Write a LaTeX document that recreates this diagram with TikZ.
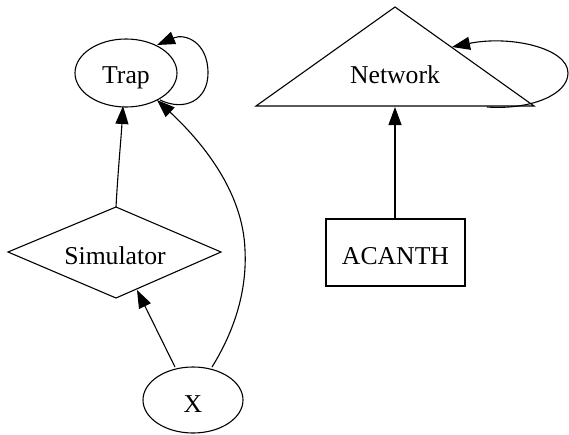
\documentclass[tikz,border=0pt]{standalone}
\usepackage{fontspec}
\setmainfont{Liberation Serif}
\usetikzlibrary{shapes.geometric,arrows.meta}
\begin{document}
\begin{tikzpicture}[x=1pt,y=-1pt,
  every path/.style={line width=1.1pt},
  shp/.style={draw,line width=1.1pt,inner sep=0pt},
  lbl/.style={anchor=base,inner sep=0pt,font=\fontsize{25.7}{30}\selectfont},
  edge/.style={draw,line width=1.1pt,-{Triangle[length=18pt,width=13pt]}}]
\useasboundingbox (0,0) rectangle (569,434);
% nodes
\node[shp,ellipse,minimum width=102pt,minimum height=68pt] (trap) at (126,73) {};
\node[lbl] (traplbl) at (126,83) {Trap};
\node[shp,ellipse,minimum width=100pt,minimum height=66pt] (x) at (193,400) {};
\node[lbl] (xlbl) at (193,412) {X};
\node[shp,rectangle,minimum width=139pt,minimum height=67pt] (acanth) at (395.5,252.5) {};
\node[lbl] (acanthlbl) at (395.5,264) {ACANTH};
% network triangle
\coordinate (nA) at (395,7);
\coordinate (nL) at (256,106);
\coordinate (nR) at (534,106);
\draw[line join=miter] (nA) -- (nL) -- (nR) -- cycle;
\node[lbl] (netlbl) at (395,83) {Network};
% simulator diamond
\coordinate (sT) at (116,207);
\coordinate (sL) at (8,252);
\coordinate (sB) at (116,298);
\coordinate (sR) at (221,252);
\draw (sT) -- (sR) -- (sB) -- (sL) -- cycle;
\node[lbl] (simlbl) at (115,264) {Simulator};
% edge end points
\coordinate (tTipS) at (123,106);
\coordinate (tTipX) at (157,100);
\coordinate (tLoopS) at (160,100);
\coordinate (tLoopE) at (157,45);
\coordinate (sTipX) at (137,290);
\coordinate (xS1) at (175,367);
\coordinate (xS2) at (212,367);
\coordinate (xMid) at (245,250);
\coordinate (nTip) at (395,107);
\coordinate (aTop) at (395,219);
\coordinate (nLoopS) at (487,107);
\coordinate (nLoopE) at (452,47);
% edges
\draw[edge] (sT) .. controls (118,170) and (121,140) .. (tTipS);
\draw[edge] (xS1) -- (sTipX);
\draw[edge] (xS2) .. controls (235,330) and (247,290) .. (xMid) .. controls (243,190) and (200,140) .. (tTipX);
\draw[edge] (tLoopS) .. controls (185,112) and (208,100) .. (208,73) .. controls (208,42) and (185,33) .. (tLoopE);
\draw[edge] (aTop) -- (nTip);
\draw[edge] (nLoopS) .. controls (530,110) and (568,95) .. (568,73) .. controls (568,48) and (510,35) .. (nLoopE);
\end{tikzpicture}
\end{document}
